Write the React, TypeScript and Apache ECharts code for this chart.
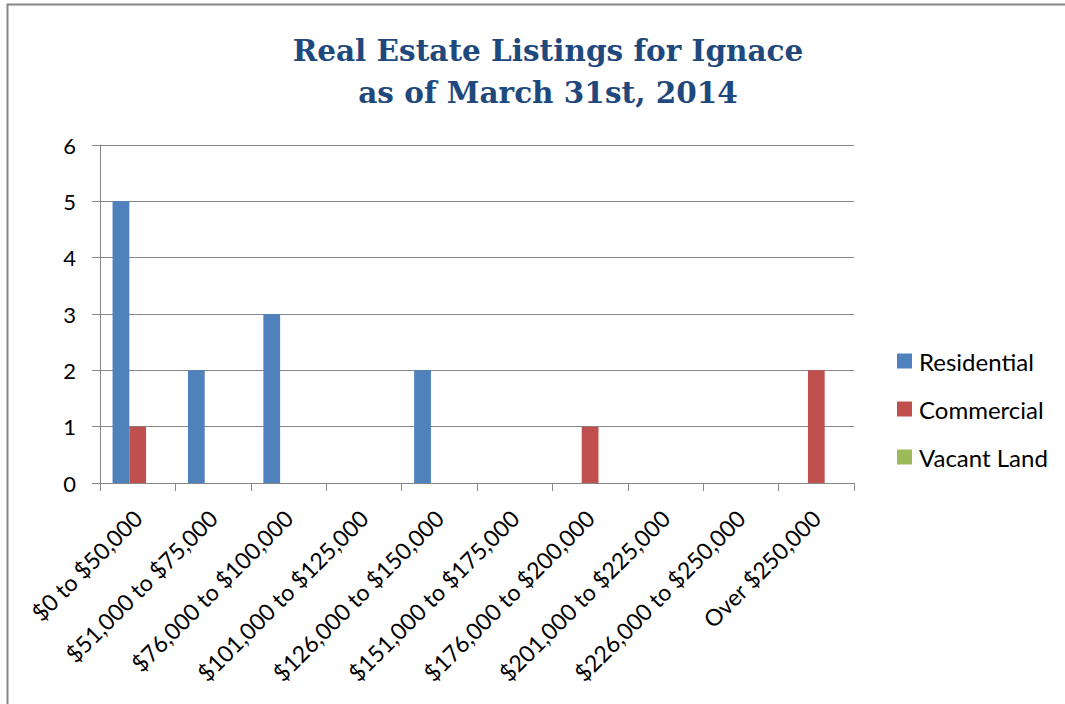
import React, { useEffect, useRef } from "react";
import * as echarts from "echarts";

const categories = [
  "$0 to $50,000",
  "$51,000 to $75,000",
  "$76,000 to $100,000",
  "$101,000 to $125,000",
  "$126,000 to $150,000",
  "$151,000 to $175,000",
  "$176,000 to $200,000",
  "$201,000 to $225,000",
  "$226,000 to $250,000",
  "Over $250,000",
];
const residential = [5, 2, 3, 0, 2, 0, 0, 0, 0, 0];
const commercial = [1, 0, 0, 0, 0, 0, 1, 0, 0, 2];
const vacantLand = [0, 0, 0, 0, 0, 0, 0, 0, 0, 0];
const yTicks = { min: 0, max: 6, interval: 1 };

const LABEL_FONT = "Lato, 'Open Sans', sans-serif";

export default function App() {
  const ref = useRef<HTMLDivElement>(null);
  useEffect(() => {
    if (!ref.current) return;
    const chart = echarts.init(ref.current, null, { renderer: "svg" });
    chart.setOption({
      animation: false,
      backgroundColor: "#ffffff",
      title: {
        text: "Real Estate Listings for Ignace\nas of March 31st, 2014",
        left: 543,
        textAlign: "center",
        top: 24,
        textStyle: {
          fontFamily: "'DejaVu Serif', serif",
          fontWeight: "bold",
          fontSize: 29.5,
          lineHeight: 42,
          color: "#1F497D",
        },
      },
      graphic: [
        {
          type: "rect",
          shape: { x: 7.5, y: 4.5, width: 1200, height: 800 },
          style: { fill: "none", stroke: "#868686", lineWidth: 2 },
          silent: true,
        },
      ],
      legend: {
        orient: "vertical",
        left: 892,
        top: 344,
        itemWidth: 15,
        itemHeight: 15,
        itemGap: 24,
        icon: "rect",
        textStyle: {
          fontFamily: LABEL_FONT,
          fontSize: 24,
          lineHeight: 24,
          color: "#000000",
          padding: [0, 0, 0, 2],
        },
        data: ["Residential", "Commercial", "Vacant Land"],
      },
      grid: { left: 100, top: 145, right: 211, bottom: 221, containLabel: false },
      xAxis: {
        type: "category",
        data: categories,
        axisLine: { lineStyle: { color: "#868686", width: 1 } },
        axisTick: { show: true, length: 8, lineStyle: { color: "#868686" } },
        axisLabel: {
          rotate: 45,
          interval: 0,
          margin: 31,
          fontFamily: LABEL_FONT,
          fontSize: 23,
          color: "#000000",
        },
      },
      yAxis: {
        type: "value",
        min: yTicks.min,
        max: yTicks.max,
        interval: yTicks.interval,
        axisLine: { show: true, lineStyle: { color: "#868686", width: 1 } },
        axisTick: { show: true, length: 8, lineStyle: { color: "#868686" } },
        splitLine: { show: true, lineStyle: { color: "#868686", width: 1 } },
        axisLabel: {
          margin: 24,
          fontFamily: LABEL_FONT,
          fontSize: 22,
          color: "#000000",
        },
      },
      series: [
        {
          name: "Residential",
          type: "bar",
          data: residential,
          barGap: "0%",
          barCategoryGap: "33.3%",
          itemStyle: { color: "#4F81BD" },
        },
        {
          name: "Commercial",
          type: "bar",
          data: commercial,
          barGap: "0%",
          barCategoryGap: "33.3%",
          itemStyle: { color: "#C0504D" },
        },
        {
          name: "Vacant Land",
          type: "bar",
          data: vacantLand,
          barGap: "0%",
          barCategoryGap: "33.3%",
          itemStyle: { color: "#9BBB59" },
        },
      ],
    });
    return () => chart.dispose();
  }, []);
  return (
    <div
      ref={ref}
      style={{ position: "fixed", left: 0, top: 0, width: 1065, height: 704 }}
    />
  );
}
